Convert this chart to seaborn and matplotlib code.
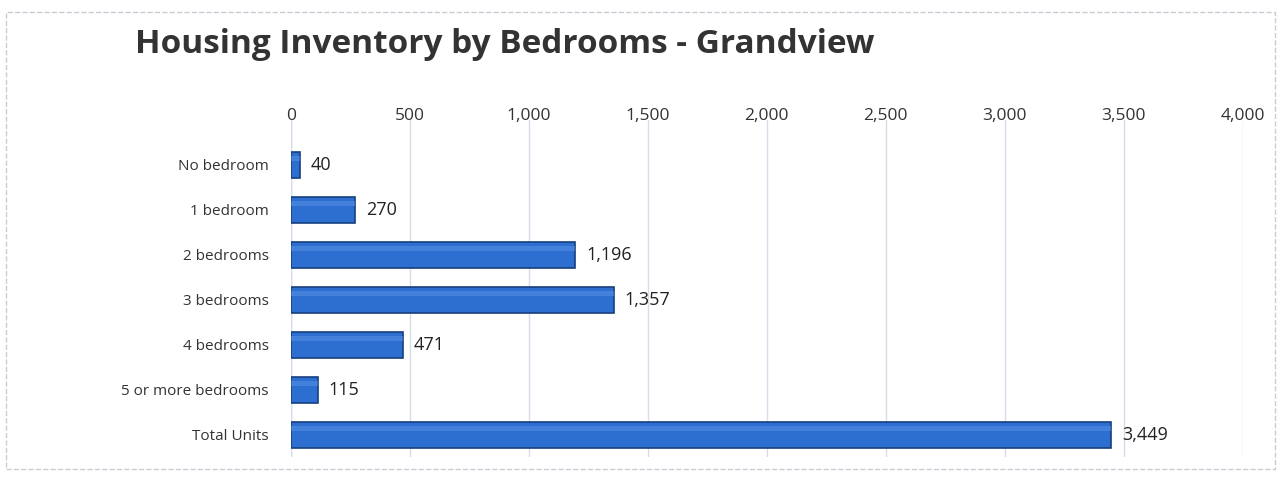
import matplotlib
matplotlib.use("Agg")
import matplotlib.pyplot as plt
import seaborn as sns
import pandas as pd
from matplotlib.patches import Rectangle
from matplotlib.ticker import FuncFormatter

# Datos del gráfico
categorias = ["No bedroom", "1 bedroom", "2 bedrooms", "3 bedrooms",
              "4 bedrooms", "5 or more bedrooms", "Total Units"]
unidades = [40, 270, 1196, 1357, 471, 115, 3449]
ticks_x = [0, 500, 1000, 1500, 2000, 2500, 3000, 3500, 4000]

df = pd.DataFrame({"Categoria": categorias, "Unidades": unidades})

sns.set_style("white")
plt.rcParams["font.family"] = ["Open Sans", "DejaVu Sans"]

fig = plt.figure(figsize=(12.81, 4.79), dpi=100)
ax = fig.add_axes([0.227, 0.045, 0.743, 0.705])

sns.barplot(data=df, x="Unidades", y="Categoria", orient="h",
            color="#2c6fd0", edgecolor="#173f7f", linewidth=1.2,
            width=0.58, saturation=1, ax=ax)

# Brillo superior en cada barra (imitando el estilo 3D)
for barra in ax.patches:
    x0, y0 = barra.get_x(), barra.get_y()
    w, h = barra.get_width(), barra.get_height()
    ax.add_patch(Rectangle((x0, y0 + h * 0.15), w, h * 0.2,
                           facecolor="#5b94e4", edgecolor="none", alpha=0.5, zorder=3))

# Etiquetas de valor
for i, v in enumerate(unidades):
    ax.text(v + 45, i, f"{v:,}", va="center", ha="left", fontsize=13, color="#222222")

ax.set_xlim(0, 4000)
ax.set_ylim(6.5, -1.0)
ax.set_xticks(ticks_x)
ax.xaxis.set_major_formatter(FuncFormatter(lambda v, p: f"{int(v):,}"))
ax.xaxis.tick_top()
ax.tick_params(axis="x", length=0, pad=-3, labelsize=12.5, labelcolor="#333333")
ax.tick_params(axis="y", length=0, pad=16, labelsize=11, labelcolor="#333333")
ax.set_xlabel("")
ax.set_ylabel("")
ax.grid(axis="x", color="#d5dde8", linewidth=1)
ax.set_axisbelow(True)
for s in ax.spines.values():
    s.set_visible(False)
ax.axvline(0, color="#c8d0dc", linewidth=1, zorder=0)

fig.text(0.105, 0.908, "Housing Inventory by Bedrooms - Grandview",
         fontsize=24, fontweight="bold", color="#333333", va="center")

# Borde del gráfico
fig.patches.append(Rectangle((0.005, 0.02), 0.99, 0.955, transform=fig.transFigure,
                             fill=False, edgecolor="#c8ccd4", linewidth=1, linestyle="--"))

plt.savefig("out.png", dpi=100)
